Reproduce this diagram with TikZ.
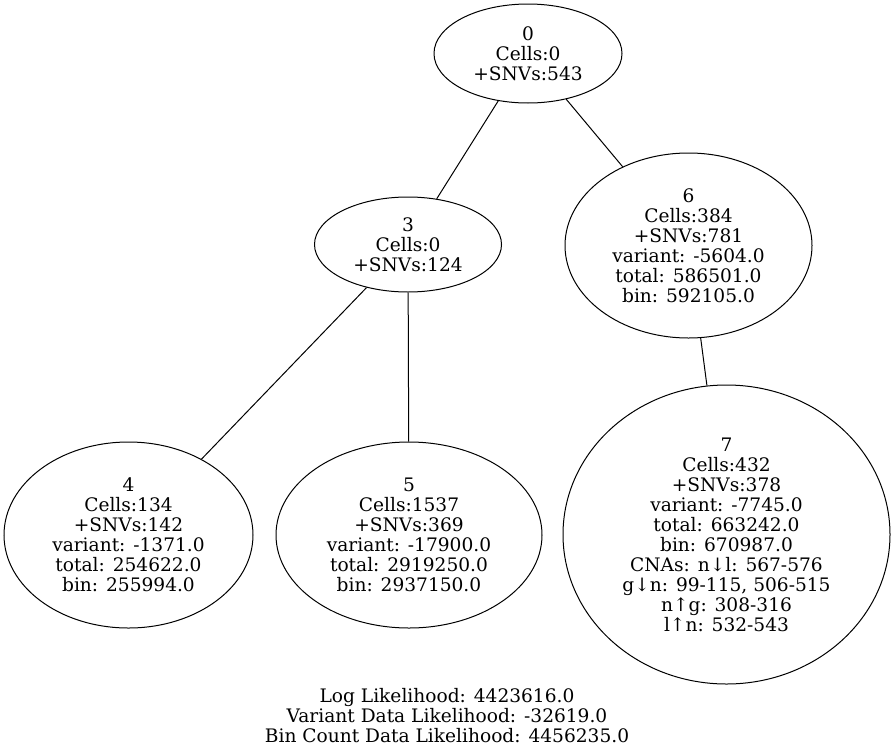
\documentclass[tikz,border=0pt]{standalone}
\usepackage{fontspec}
\setmainfont{DejaVu Serif}
\usetikzlibrary{shapes.geometric}
\begin{document}
\begin{tikzpicture}[x=1pt,y=-1pt,
  tnode/.style={draw,ellipse,line width=1pt,inner sep=0pt,align=center,
    font={\fontsize{18.6}{20}\selectfont}},
  edge/.style={line width=1pt}]
\useasboundingbox (0,0) rectangle (896,755);
\node[tnode,minimum width=188pt,minimum height=99pt] (n0) at (528,53.5) {0\\Cells:0\\+SNVs:543};
\node[tnode,minimum width=187pt,minimum height=95pt] (n3) at (408,244.5) {3\\Cells:0\\+SNVs:124};
\node[tnode,minimum width=247pt,minimum height=185pt] (n6) at (688.5,245.5) {6\\Cells:384\\+SNVs:781\\variant: -5604.0\\total: 586501.0\\bin: 592105.0};
\node[tnode,minimum width=249pt,minimum height=186pt] (n4) at (128.5,535) {4\\Cells:134\\+SNVs:142\\variant: -1371.0\\total: 254622.0\\bin: 255994.0};
\node[tnode,minimum width=266pt,minimum height=186pt] (n5) at (409,535) {5\\Cells:1537\\+SNVs:369\\variant: -17900.0\\total: 2919250.0\\bin: 2937150.0};
\node[tnode,minimum width=327pt,minimum height=299pt] (n7) at (726.5,534.5) {7\\Cells:432\\+SNVs:378\\variant: -7745.0\\total: 663242.0\\bin: 670987.0\\CNAs: n↓l: 567-576\\g↓n: 99-115, 506-515\\n↑g: 308-316\\l↑n: 532-543};
\draw[edge] (n0) -- (n3);
\draw[edge] (n0) -- (n6);
\draw[edge] (n3) -- (n4);
\draw[edge] (n3) -- (n5);
\draw[edge] (n6) -- (n7);
\node[align=center,inner sep=0pt,font={\fontsize{18.6}{20}\selectfont}] (lbl) at (447,716) {Log Likelihood: 4423616.0\\Variant Data Likelihood: -32619.0\\Bin Count Data Likelihood: 4456235.0};
\end{tikzpicture}
\end{document}
